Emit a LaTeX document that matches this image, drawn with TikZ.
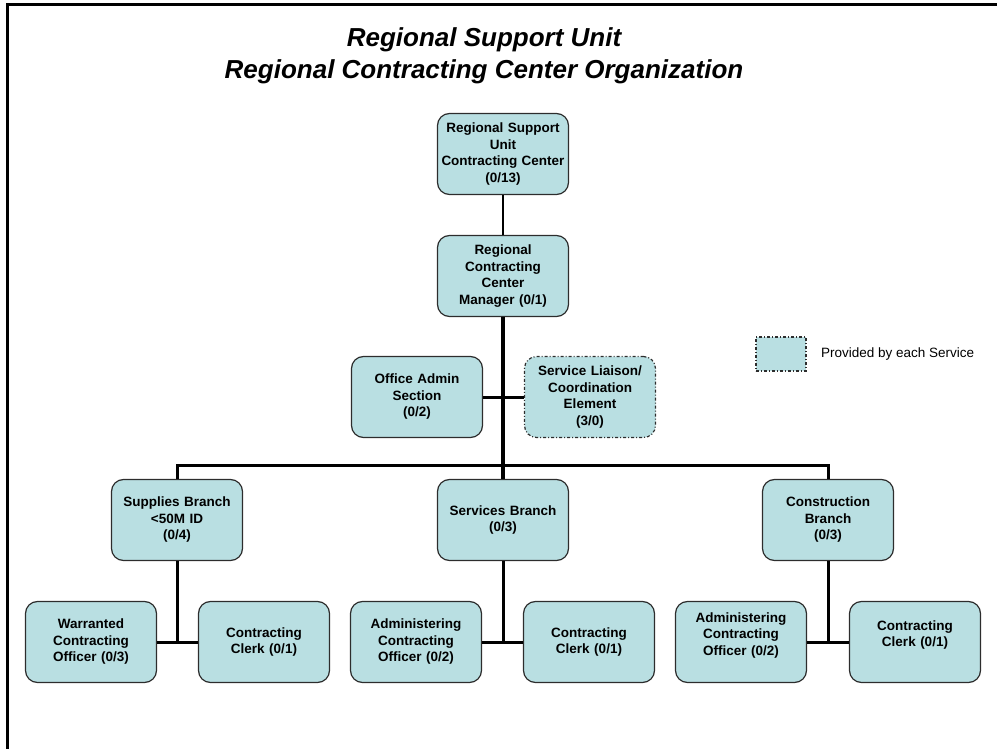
\documentclass[tikz,border=0pt]{standalone}
\usepackage{fontspec}
\setmainfont{Liberation Sans}
\usetikzlibrary{positioning}
\definecolor{unitfill}{RGB}{185,223,226}
\definecolor{unitdraw}{RGB}{45,45,45}

\begin{document}
\begin{tikzpicture}[x=1pt,y=-1pt,
  unit/.style={draw=unitdraw,line width=1.2pt,fill=unitfill,rounded corners=12pt,
    minimum width=131pt,minimum height=81pt,text width=125pt,align=center,inner sep=0pt,
    font=\fontsize{13.5}{16.5}\selectfont\bfseries},
  provided/.style={unit,dash pattern=on 3pt off 2pt on 1pt off 2pt},
  link/.style={line width=3pt,black},
  ]
  \useasboundingbox (0,0) rectangle (997,749);
  \draw[line width=3pt] (7,749) -- (7,5) -- (997,5);

  \node[align=center,font=\fontsize{26}{32}\selectfont\bfseries\itshape] (title) at (484,56)
    {Regional Support Unit\\Regional Contracting Center Organization};

  % upper levels
  \node[unit] (rsu) at (503,154) {Regional Support\\Unit\\Contracting Center\\(0/13)};
  \node[unit] (mgr) at (503,276) {Regional\\Contracting\\Center\\Manager (0/1)};
  \node[unit] (admin) at (417,397) {Office Admin\\Section\\(0/2)};
  \node[provided] (liaison) at (590,397) {Service Liaison/\\Coordination\\Element\\(3/0)};

  % branches
  \node[unit] (supply) at (177,520) {Supplies Branch\\{<}50M ID\\(0/4)};
  \node[unit] (services) at (503,520) {Services Branch\\(0/3)};
  \node[unit] (constr) at (828,520) {Construction\\Branch\\(0/3)};

  % bottom row
  \node[unit] (warr) at (91,642) {Warranted\\Contracting\\Officer (0/3)};
  \node[unit] (clerkA) at (264,642) {Contracting\\Clerk (0/1)};
  \node[unit] (adminB) at (416,642) {Administering\\Contracting\\Officer (0/2)};
  \node[unit] (clerkB) at (589,642) {Contracting\\Clerk (0/1)};
  \node[unit] (adminC) at (741,642) {Administering\\Contracting\\Officer (0/2)\\\mbox{}};
  \node[unit] (clerkC) at (915,642) {Contracting\\Clerk (0/1)\\\mbox{}};

  % legend
  \node[provided,rounded corners=0pt,minimum width=50pt,minimum height=34pt,text width=40pt] (key) at (781,354) {};
  \node[right=11pt of key,font=\fontsize{13.5}{16}\selectfont] (keytext) {Provided by each Service};

  % connectors
  \draw[link,line width=2.6pt] (rsu.south) -- (mgr.north);
  \draw[link,line width=3.8pt] (mgr.south) -- (services.north);
  \draw[link] (admin.east) -- (liaison.west);
  \draw[link] (supply.north) -- ++(0,-13) -| (constr.north);
  \draw[link] (supply.south) -- (supply.south |- warr.east);
  \draw[link] (warr.east) -- (clerkA.west);
  \draw[link] (services.south) -- (services.south |- adminB.east);
  \draw[link] (adminB.east) -- (clerkB.west);
  \draw[link] (constr.south) -- (constr.south |- adminC.east);
  \draw[link] (adminC.east) -- (clerkC.west);
\end{tikzpicture}
\end{document}
